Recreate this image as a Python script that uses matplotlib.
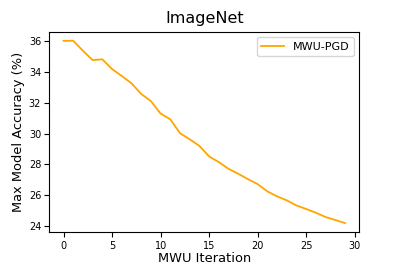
import numpy as np
import matplotlib
matplotlib.use('Agg')
import matplotlib.pyplot as plt

iterations = np.arange(30)
accuracy = [36.0, 36.0, 35.35, 34.75, 34.8, 34.17, 33.72, 33.25, 32.56, 32.1,
            31.29, 30.92, 30.02, 29.63, 29.2, 28.52, 28.15, 27.72, 27.4, 27.05,
            26.73, 26.26, 25.94, 25.68, 25.35, 25.12, 24.88, 24.6, 24.41, 24.21]

fig = plt.figure(figsize=(3.99, 2.66), dpi=100)
ax = fig.add_axes([0.124, 0.127, 0.776, 0.754])
ax.plot(iterations, accuracy, color='orange', linewidth=1.3, label='MWU-PGD')

ax.set_title('ImageNet', fontsize=11.5)
ax.set_xlabel('MWU Iteration', fontsize=9.4, labelpad=1)
ax.set_ylabel('Max Model Accuracy (%)', fontsize=9.4, labelpad=3)
ax.set_xticks([0, 5, 10, 15, 20, 25, 30])
ax.set_yticks([24, 26, 28, 30, 32, 34, 36])
ax.tick_params(labelsize=7, length=3.5, pad=2.5)
ax.legend(loc='upper right', fontsize=8)

fig.savefig('out.png', dpi=100)
